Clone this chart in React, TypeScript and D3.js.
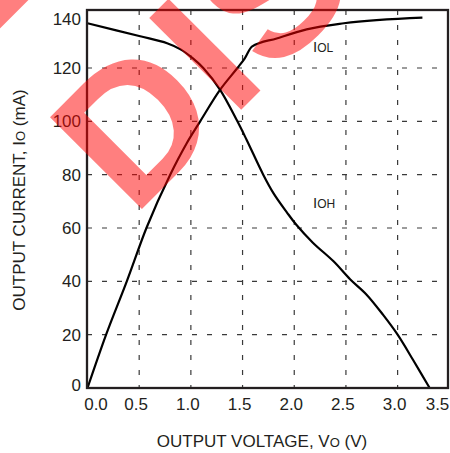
import React from "react";
import * as d3 from "d3";

const xTicks = [0, 0.5, 1.0, 1.5, 2.0, 2.5, 3.0, 3.5];
const yTicks = [0, 20, 40, 60, 80, 100, 120, 140];

const iohV = [0, 0.5, 0.77, 0.9, 1.02, 1.12, 1.28, 1.45, 1.54, 1.7, 1.8, 1.93, 2.02, 2.18, 2.38, 2.54, 2.7, 2.86, 3.0, 3.15, 3.31];
const iohI = [136.8, 132, 129.3, 127, 123.6, 120, 112, 100, 93, 80, 73, 65.8, 61.2, 54.5, 47.5, 40.8, 35, 27.4, 20, 10.5, 0];

const iolV = [0, 0.18, 0.38, 0.57, 0.8, 0.96, 1.09, 1.28, 1.45, 1.52, 1.59, 1.83, 2.12, 2.48, 3.24];
const iolI = [0, 20, 40, 60, 80, 91.8, 100, 111.7, 120, 123.5, 128, 131.1, 134.5, 136.8, 138.9];

const W = 450;
const H = 453;
const left = 87;
const right = 448;
const top = 10;
const bottom = 388;

export default function App() {
  const x = d3.scaleLinear().domain([0, 3.5]).range([87.5, 449.3]);
  const y = d3.scaleLinear().domain([0, 141.76]).range([bottom, top]);

  const smooth = d3
    .line<[number, number]>()
    .x((d) => x(d[0]))
    .y((d) => y(d[1]))
    .curve(d3.curveCatmullRom.alpha(0.5));
  const mono = d3
    .line<[number, number]>()
    .x((d) => x(d[0]))
    .y((d) => y(d[1]))
    .curve(d3.curveMonotoneX);

  const ioh = iohV.map((v, i) => [v, iohI[i]] as [number, number]);
  const iol = iolV.map((v, i) => [v, iolI[i]] as [number, number]);

  const font = "'Liberation Sans', Arial, Helvetica, sans-serif";
  const ink = "#231f20";

  return (
    <svg width={W} height={H} style={{ position: "absolute", left: 0, top: 0 }} fontFamily={font}>
      <rect x={0} y={0} width={W} height={H} fill="#fff" />
      <g stroke="#3a3a3a" strokeWidth={1.2} strokeDasharray="5,10">
        {xTicks
          .filter((t) => t > 0 && t < 3.5)
          .map((t) => (
            <line key={"gx" + t} x1={x(t)} x2={x(t)} y1={top} y2={bottom} />
          ))}
        {yTicks
          .filter((t) => t > 0 && t < 140)
          .map((t) => (
            <line key={"gy" + t} x1={left} x2={right} y1={y(t)} y2={y(t)} />
          ))}
      </g>
      <path d={smooth(ioh) || ""} fill="none" stroke="#000" strokeWidth={2.2} />
      <path d={mono(iol) || ""} fill="none" stroke="#000" strokeWidth={2.2} />
      <rect x={left} y={top} width={right - left} height={bottom - top} fill="none" stroke={ink} strokeWidth={2.3} />
      <g fontSize={17} fill={ink} textAnchor="end">
        {yTicks.map((t) => (
          <text key={"yl" + t} x={81} y={Math.min(Math.max(y(t), top + 9), bottom - 3)} dy="0.36em">
            {t}
          </text>
        ))}
      </g>
      <g fontSize={17} fill={ink} textAnchor="middle">
        {xTicks.map((t) => (
          <text key={"xl" + t} x={Math.min(Math.max(x(t) - 3, 96), 437.5)} y={410}>
            {t.toFixed(1)}
          </text>
        ))}
      </g>
      <text x={313} y={52} fill={ink} fontSize={15}>
        I<tspan fontSize={12}>OL</tspan>
      </text>
      <text x={313} y={208} fill={ink} fontSize={15}>
        I<tspan fontSize={12}>OH</tspan>
      </text>
      <text x={262} y={446.5} fill={ink} fontSize={17} textAnchor="middle">
        OUTPUT VOLTAGE, V<tspan fontSize={13}>O</tspan> (V)
      </text>
      <text transform="translate(25,200) rotate(-90)" fill={ink} fontSize={17} textAnchor="middle">
        OUTPUT CURRENT, I<tspan fontSize={13}>O</tspan> (mA)
      </text>
      <g transform="translate(133,218) rotate(-45)" fill="#ff0000" fillOpacity={0.5} fontWeight="bold" fontSize={189}>
        <text x={0} y={0} letterSpacing={4}>DISCONTINUED</text>
        <text x={136} y={-228} textAnchor="end">PRODUCT LINE</text>
      </g>
    </svg>
  );
}
